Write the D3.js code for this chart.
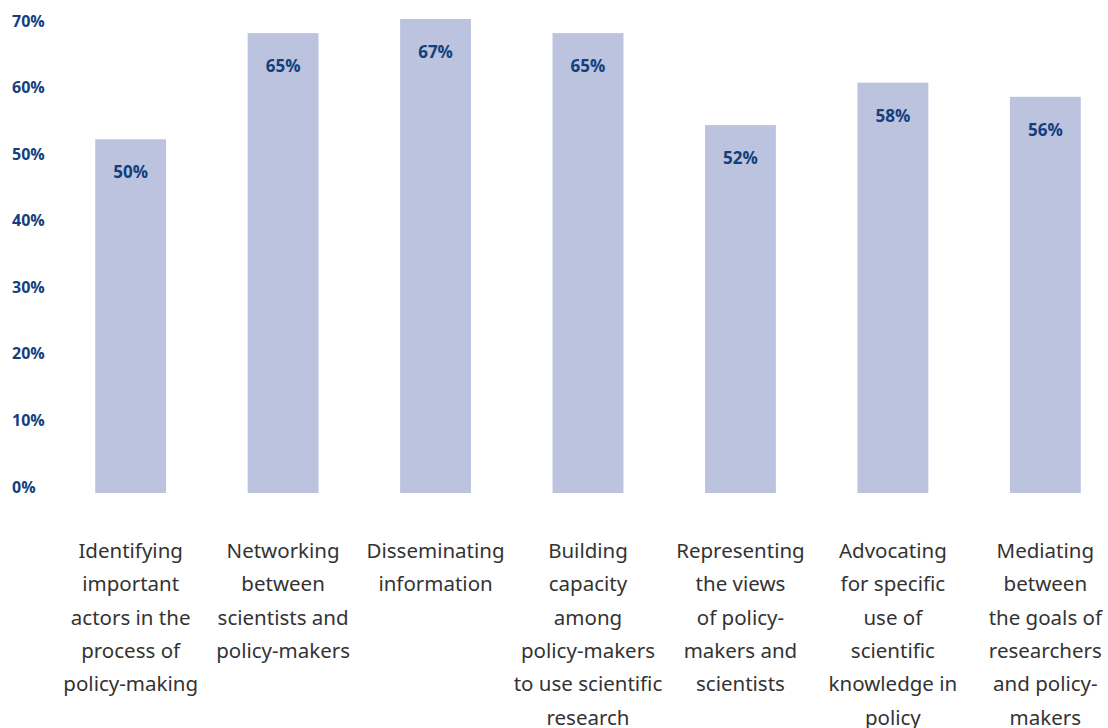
<!DOCTYPE html>
<html>
<head>
<meta charset="utf-8">
<script src="https://cdn.jsdelivr.net/npm/d3@7"></script>
<style>
  body { margin: 0; background: #fff; }
</style>
</head>
<body>
<div id="chart"></div>
<script>
// categories (label lines as in the source) and values in percent
var categories = [
  ["Identifying", "important", "actors in the", "process of", "policy-making"],
  ["Networking", "between", "scientists and", "policy-makers"],
  ["Disseminating", "information"],
  ["Building", "capacity", "among", "policy-makers", "to use scientific", "research"],
  ["Representing", "the views", "of policy-", "makers and", "scientists"],
  ["Advocating", "for specific", "use of", "scientific", "knowledge in", "policy"],
  ["Mediating", "between", "the goals of", "researchers", "and policy-", "makers"]
];
var values = [50, 65, 67, 65, 52, 58, 56];
var tickValues = [0, 10, 20, 30, 40, 50, 60, 70];

var width = 1108, height = 728;
var blue = "#143f7d";

var svg = d3.select("#chart").append("svg")
  .attr("width", width)
  .attr("height", height);

var keys = categories.map(function(d, i) { return "c" + i; });

var x = d3.scaleBand()
  .domain(keys)
  .range([19, 1157])
  .paddingInner(0.535)
  .paddingOuter(0.5);

// scale used by the bars
var y = d3.scaleLinear()
  .domain([0, 67])
  .range([493, 19]);

// scale used by the tick labels (placed a little off the bars in the source)
var yTicks = d3.scaleLinear()
  .domain([0, 70])
  .range([487, 21]);

var yAxis = svg.append("g")
  .attr("transform", "translate(12,0)")
  .call(d3.axisLeft(yTicks).tickValues(tickValues).tickSize(0).tickPadding(0)
    .tickFormat(function(d) { return d + "%"; }));
yAxis.select(".domain").remove();
yAxis.selectAll("text")
  .attr("text-anchor", "start")
  .attr("fill", blue)
  .style("font-family", "'Open Sans', sans-serif")
  .style("font-weight", "bold")
  .style("font-size", "16px");

// bars
svg.append("g")
  .selectAll("rect")
  .data(values)
  .enter().append("rect")
    .attr("x", function(d, i) { return x(keys[i]); })
    .attr("y", function(d) { return y(d); })
    .attr("width", x.bandwidth())
    .attr("height", function(d) { return y(0) - y(d); })
    .attr("fill", "#bbc3de");

// value labels
svg.append("g")
  .selectAll("text")
  .data(values)
  .enter().append("text")
    .attr("x", function(d, i) { return x(keys[i]) + x.bandwidth() / 2; })
    .attr("y", function(d) { return y(d) + 39; })
    .attr("text-anchor", "middle")
    .attr("fill", blue)
    .style("font-family", "'Open Sans', sans-serif")
    .style("font-weight", "bold")
    .style("font-size", "17px")
    .text(function(d) { return d + "%"; });

// category labels
var cat = svg.append("g")
  .selectAll("text")
  .data(categories)
  .enter().append("text")
    .attr("text-anchor", "middle")
    .attr("fill", "#333")
    .style("font-family", "'Noto Sans', sans-serif")
    .style("font-size", "20.5px");

cat.selectAll("tspan")
  .data(function(d, i) { return d.map(function(line) { return {line: line, i: i}; }); })
  .enter().append("tspan")
    .attr("x", function(d) { return x(keys[d.i]) + x.bandwidth() / 2; })
    .attr("y", function(d, j) { return 558 + j * 33.3; })
    .text(function(d) { return d.line; });
</script>
</body>
</html>
